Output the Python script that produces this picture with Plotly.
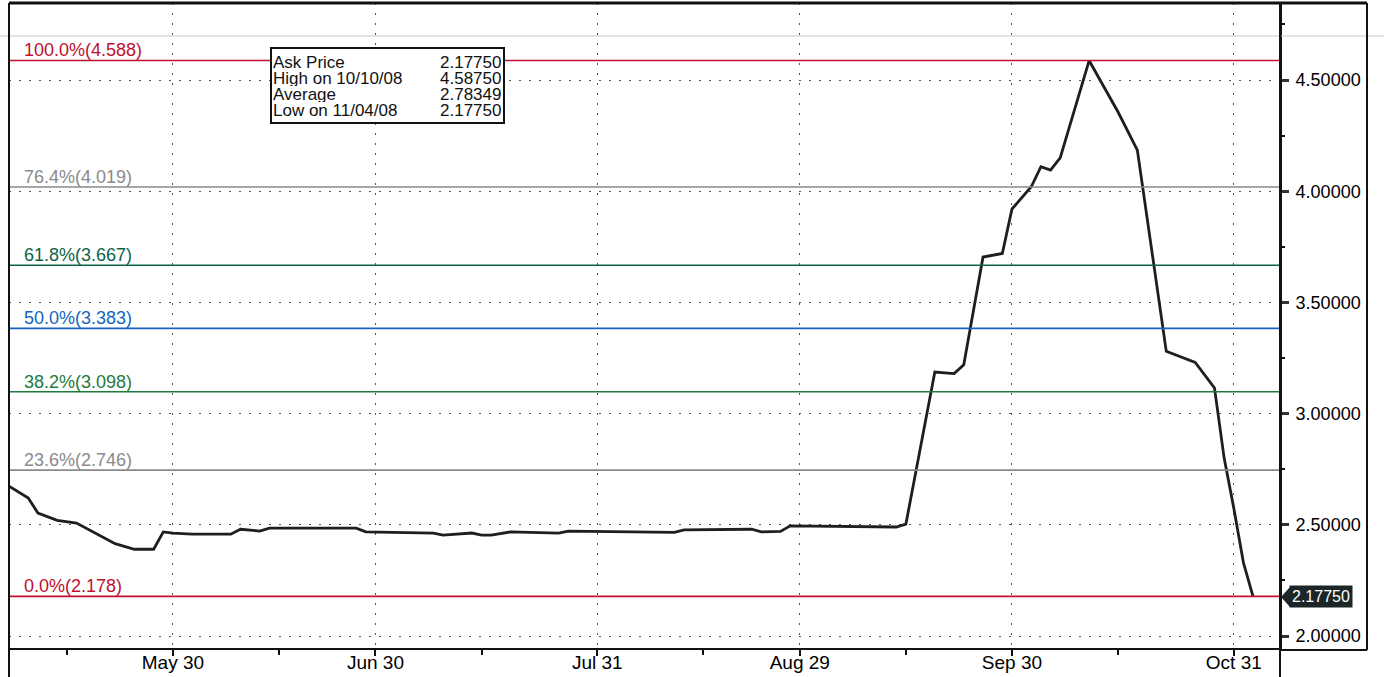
import plotly.graph_objects as go

# ---------------- data ----------------
dates = [
    "2008-05-07", "2008-05-09", "2008-05-12", "2008-05-14", "2008-05-16",
    "2008-05-20", "2008-05-22", "2008-05-26", "2008-05-28", "2008-05-29",
    "2008-05-30", "2008-06-03", "2008-06-09", "2008-06-10", "2008-06-12",
    "2008-06-13", "2008-06-26", "2008-06-27", "2008-07-08", "2008-07-09",
    "2008-07-14", "2008-07-15", "2008-07-16", "2008-07-18", "2008-07-25",
    "2008-07-28", "2008-08-12", "2008-08-13", "2008-08-22", "2008-08-25",
    "2008-08-27", "2008-08-28", "2008-09-12", "2008-09-15", "2008-09-18",
    "2008-09-22", "2008-09-23", "2008-09-25", "2008-09-29", "2008-09-30",
    "2008-10-02", "2008-10-03", "2008-10-06", "2008-10-07", "2008-10-10",
    "2008-10-13", "2008-10-15", "2008-10-17", "2008-10-22", "2008-10-27",
    "2008-10-29", "2008-10-30", "2008-10-31", "2008-11-03", "2008-11-04",
]
ask_price = [
    2.674, 2.620, 2.553, 2.520, 2.508,
    2.462, 2.415, 2.390, 2.390, 2.468,
    2.463, 2.458, 2.458, 2.480, 2.472,
    2.485, 2.485, 2.468, 2.463, 2.454,
    2.463, 2.454, 2.454, 2.468, 2.463,
    2.472, 2.466, 2.477, 2.480, 2.468,
    2.470, 2.495, 2.490, 2.503, 3.187,
    3.180, 3.220, 3.704, 3.720, 3.920,
    4.020, 4.110, 4.095, 4.150, 4.5875,
    4.510, 4.356, 4.185, 3.280, 3.230,
    3.115, 2.800, 2.575, 2.330, 2.1775,
]

fib_levels = [4.588, 4.019, 3.667, 3.383, 3.098, 2.746, 2.178]
fib_labels = ["100.0%(4.588)", "76.4%(4.019)", "61.8%(3.667)", "50.0%(3.383)",
              "38.2%(3.098)", "23.6%(2.746)", "0.0%(2.178)"]
fib_colors = ["#c0102e", "#8a8a8a", "#0b6446", "#1565c0", "#1f7a3c", "#8a8a8a", "#c0102e"]

x_tick_vals = ["2008-05-30", "2008-06-30", "2008-07-31", "2008-08-29", "2008-09-30", "2008-10-31"]
x_tick_text = ["May 30", "Jun 30", "Jul 31", "Aug 29", "Sep 30", "Oct 31"]
x_minor_vals = ["2008-05-15", "2008-06-16", "2008-07-15", "2008-08-15", "2008-09-15", "2008-10-15"]

y_tick_vals = [2.0, 2.5, 3.0, 3.5, 4.0, 4.5]
y_tick_text = ["2.00000", "2.50000", "3.00000", "3.50000", "4.00000", "4.50000"]
y_minor_vals = [2.25, 2.75, 3.25, 3.75, 4.25, 4.75]

info_names = ["Ask Price", "High on 10/10/08", "Average", "Low on 11/04/08"]
info_values = ["2.17750", "4.58750", "2.78349", "2.17750"]
last_label = "2.17750"
last_value = 2.1775

# ---------------- figure ----------------
W, H = 1384, 677
ML, MR, MT, MB = 9, 104, 3, 29
PW, PH = W - ML - MR, H - MT - MB


def px_x(x):
    return (x - ML) / PW


def px_y(y):
    return (H - MB - y) / PH


FONT = "Liberation Sans, Arial, sans-serif"

fig = go.Figure()
fig.add_trace(go.Scatter(
    x=dates, y=ask_price, mode="lines",
    line=dict(color="#1e1e1e", width=2.8),
    hoverinfo="x+y", showlegend=False,
))

shapes = []
annotations = []

# fibonacci retracement lines
for lvl, lab, col in zip(fib_levels, fib_labels, fib_colors):
    shapes.append(dict(type="line", xref="paper", yref="y", x0=0, x1=1, y0=lvl, y1=lvl,
                       line=dict(color=col, width=1.6), layer="above"))
    annotations.append(dict(xref="paper", yref="y", x=px_x(22), y=lvl, text=lab,
                            xanchor="left", yanchor="bottom", showarrow=False, yshift=-2,
                            font=dict(family=FONT, size=18, color=col)))

# faint scan line near top
shapes.append(dict(type="line", xref="paper", yref="paper", x0=-0.01, x1=px_x(1384),
                   y0=px_y(36), y1=px_y(36), line=dict(color="#c8c8c8", width=1)))

# frame lines
shapes.append(dict(type="line", xref="paper", yref="paper", x0=0, x1=0, y0=px_y(677), y1=1,
                   line=dict(color="#111", width=2)))
shapes.append(dict(type="line", xref="paper", yref="paper", x0=1, x1=1, y0=px_y(677), y1=1,
                   line=dict(color="#111", width=2)))
shapes.append(dict(type="line", xref="paper", yref="paper", x0=0, x1=px_x(1367), y0=1, y1=1,
                   line=dict(color="#111", width=3)))
shapes.append(dict(type="line", xref="paper", yref="paper", x0=px_x(1367), x1=px_x(1367),
                   y0=px_y(650), y1=1, line=dict(color="#111", width=2)))
shapes.append(dict(type="line", xref="paper", yref="paper", x0=1, x1=px_x(1367),
                   y0=px_y(650), y1=px_y(650), line=dict(color="#111", width=2)))

# info box
bx0, bx1, by0, by1 = 271, 504, 48, 123
shapes.append(dict(type="rect", xref="paper", yref="paper",
                   x0=px_x(bx0), x1=px_x(bx1), y0=px_y(by1), y1=px_y(by0),
                   fillcolor="white", line=dict(color="#111", width=2), layer="above"))
row_y = [62, 78, 94, 110]
for name, val, ry in zip(info_names, info_values, row_y):
    annotations.append(dict(xref="paper", yref="paper", x=px_x(bx0 + 1), y=px_y(ry), text=name,
                            xanchor="left", yanchor="middle", showarrow=False, borderpad=0,
                            height=16, valign="middle",
                            font=dict(family=FONT, size=17, color="#111")))
    annotations.append(dict(xref="paper", yref="paper", x=px_x(bx1 - 2), y=px_y(ry), text=val,
                            xanchor="right", yanchor="middle", showarrow=False, borderpad=0,
                            height=16, valign="middle",
                            font=dict(family=FONT, size=17, color="#111")))

# last price tag on right axis
annotations.append(dict(xref="paper", yref="y", x=px_x(1289), y=last_value, text=last_label,
                        xanchor="left", yanchor="middle", showarrow=False,
                        bgcolor="#1c2626", borderpad=2,
                        font=dict(family=FONT, size=16, color="white")))
shapes.append(dict(type="path", xref="paper", yref="paper",
                   path="M %f,%f L %f,%f L %f,%f Z" % (
                       px_x(1281), px_y(597), px_x(1290), px_y(587), px_x(1290), px_y(607)),
                   fillcolor="#1c2626", line=dict(width=0), layer="above"))

y_top = 2.0 + (636 - MT) / 222.4
y_bot = 2.0 - (H - MB - 636) / 222.4

fig.update_layout(
    width=W, height=H, autosize=False,
    margin=dict(l=ML, r=MR, t=MT, b=MB, pad=0, autoexpand=False),
    paper_bgcolor="white", plot_bgcolor="white",
    shapes=shapes, annotations=annotations,
    showlegend=False,
    xaxis=dict(
        type="date", automargin=False,
        range=["2008-05-07", "2008-11-06 19:00"],
        rangebreaks=[dict(bounds=["sat", "mon"])],
        tickmode="array", tickvals=x_tick_vals, ticktext=x_tick_text,
        ticks="outside", ticklen=6, tickwidth=2, tickcolor="#111",
        ticklabelstandoff=-10,
        tickfont=dict(family=FONT, size=19, color="#000"),
        showgrid=True, gridcolor="#555", gridwidth=1, griddash="2px,8px",
        showline=True, linecolor="#111", linewidth=2, mirror=False,
        zeroline=False,
        minor=dict(tickmode="array", tickvals=x_minor_vals, ticks="outside",
                   ticklen=5, tickwidth=2, tickcolor="#111", showgrid=False),
    ),
    yaxis=dict(
        side="right", automargin=False,
        range=[y_bot, y_top],
        tickmode="array", tickvals=y_tick_vals, ticktext=y_tick_text,
        ticks="outside", ticklen=7, tickwidth=3, tickcolor="#333",
        ticklabelstandoff=3,
        tickfont=dict(family=FONT, size=18, color="#000"),
        showgrid=True, gridcolor="#555", gridwidth=1, griddash="2px,8px",
        showline=True, linecolor="#111", linewidth=2,
        zeroline=False,
        minor=dict(tickmode="array", tickvals=y_minor_vals, ticks="outside",
                   ticklen=3, tickwidth=2, tickcolor="#111", showgrid=False),
    ),
)

fig.write_html("out.html",
               config={"displayModeBar": False, "responsive": False},
               post_script="document.body.style.margin='0px';document.body.style.overflow='hidden';")
